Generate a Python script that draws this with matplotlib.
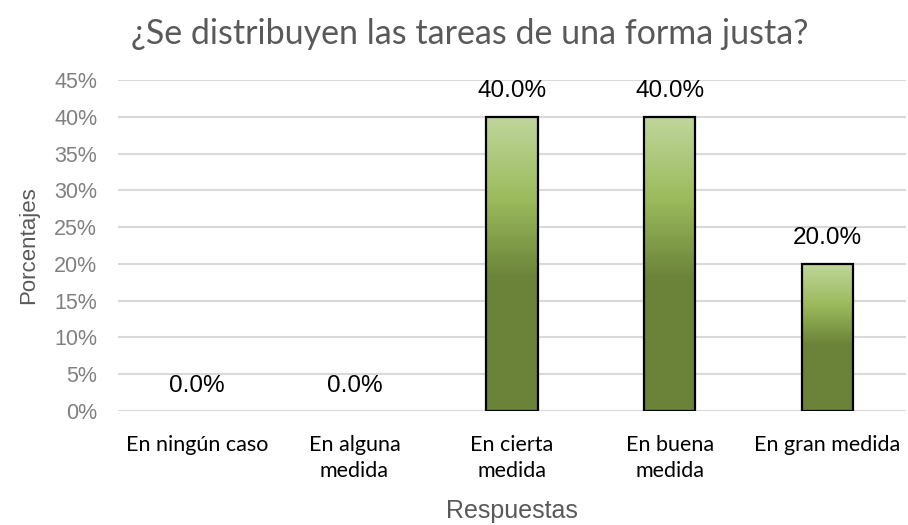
import numpy as np
import matplotlib
matplotlib.use("Agg")
import matplotlib.pyplot as plt
from matplotlib.colors import LinearSegmentedColormap
from matplotlib.patches import Rectangle

categories = ["En ningún caso", "En alguna\nmedida", "En cierta\nmedida",
              "En buena\nmedida", "En gran medida"]
values = [0.0, 0.0, 40.0, 40.0, 20.0]
yticks = [0, 5, 10, 15, 20, 25, 30, 35, 40, 45]

title = "¿Se distribuyen las tareas de una forma justa?"

# bar gradient: light on top, dark from the middle down
grad = LinearSegmentedColormap.from_list(
    "g", [(0.0, "#6b8339"), (0.45, "#6b8339"), (0.72, "#9bbb5c"), (1.0, "#c0d69c")])

fig = plt.figure(figsize=(9.08, 5.25), dpi=100)
ax = fig.add_axes([118 / 908, 1 - 411 / 525, 788 / 908, 331 / 525])

x = np.arange(len(categories))
width = 0.325
bars = ax.bar(x, values, width=width, color="none", edgecolor="black",
              linewidth=1.6, zorder=3)

g = np.linspace(0, 1, 256).reshape(-1, 1)
for b in bars:
    h = b.get_height()
    if h <= 0:
        b.set_linewidth(0)
        continue
    x0 = b.get_x()
    im = ax.imshow(g, cmap=grad, origin="lower", aspect="auto",
                   extent=[x0, x0 + b.get_width(), 0, h], zorder=2)
    im.set_clip_path(Rectangle((x0, 0), b.get_width(), h, transform=ax.transData))

for xi, v in zip(x, values):
    ax.annotate(f"{v:.1f}%", (xi, v), xytext=(0, 14), textcoords="offset points",
                ha="center", va="baseline", fontsize=17.5,
                family="Liberation Sans", color="black")

ax.set_xlim(-0.5, len(categories) - 0.5)
ax.set_ylim(0, 45)
ax.set_yticks(yticks)
ax.set_yticklabels([f"{t}%" for t in yticks], family="Liberation Sans",
                   fontsize=15.5, color="#808080")
ax.set_xticks(x)
ax.set_xticklabels(categories, family="Lato", fontsize=15.5, color="black",
                   linespacing=1.35)
ax.tick_params(axis="both", length=0)
ax.tick_params(axis="y", pad=15)
ax.tick_params(axis="x", pad=17.5)

ax.grid(axis="y", color="#d9d9d9", linewidth=1.5, zorder=0)
ax.set_axisbelow(True)
for s in ax.spines.values():
    s.set_visible(False)

ax.set_ylabel("Porcentajes", family="Liberation Sans", fontsize=16,
              color="#595959", labelpad=11)
ax.set_xlabel("Respuestas", family="Liberation Sans", fontsize=18,
              color="#595959", labelpad=13)

fig.text(0.517, 0.935, title, ha="center", va="center", family="Lato",
         fontsize=24.5, color="#595959")

fig.savefig("out.png", dpi=100)
